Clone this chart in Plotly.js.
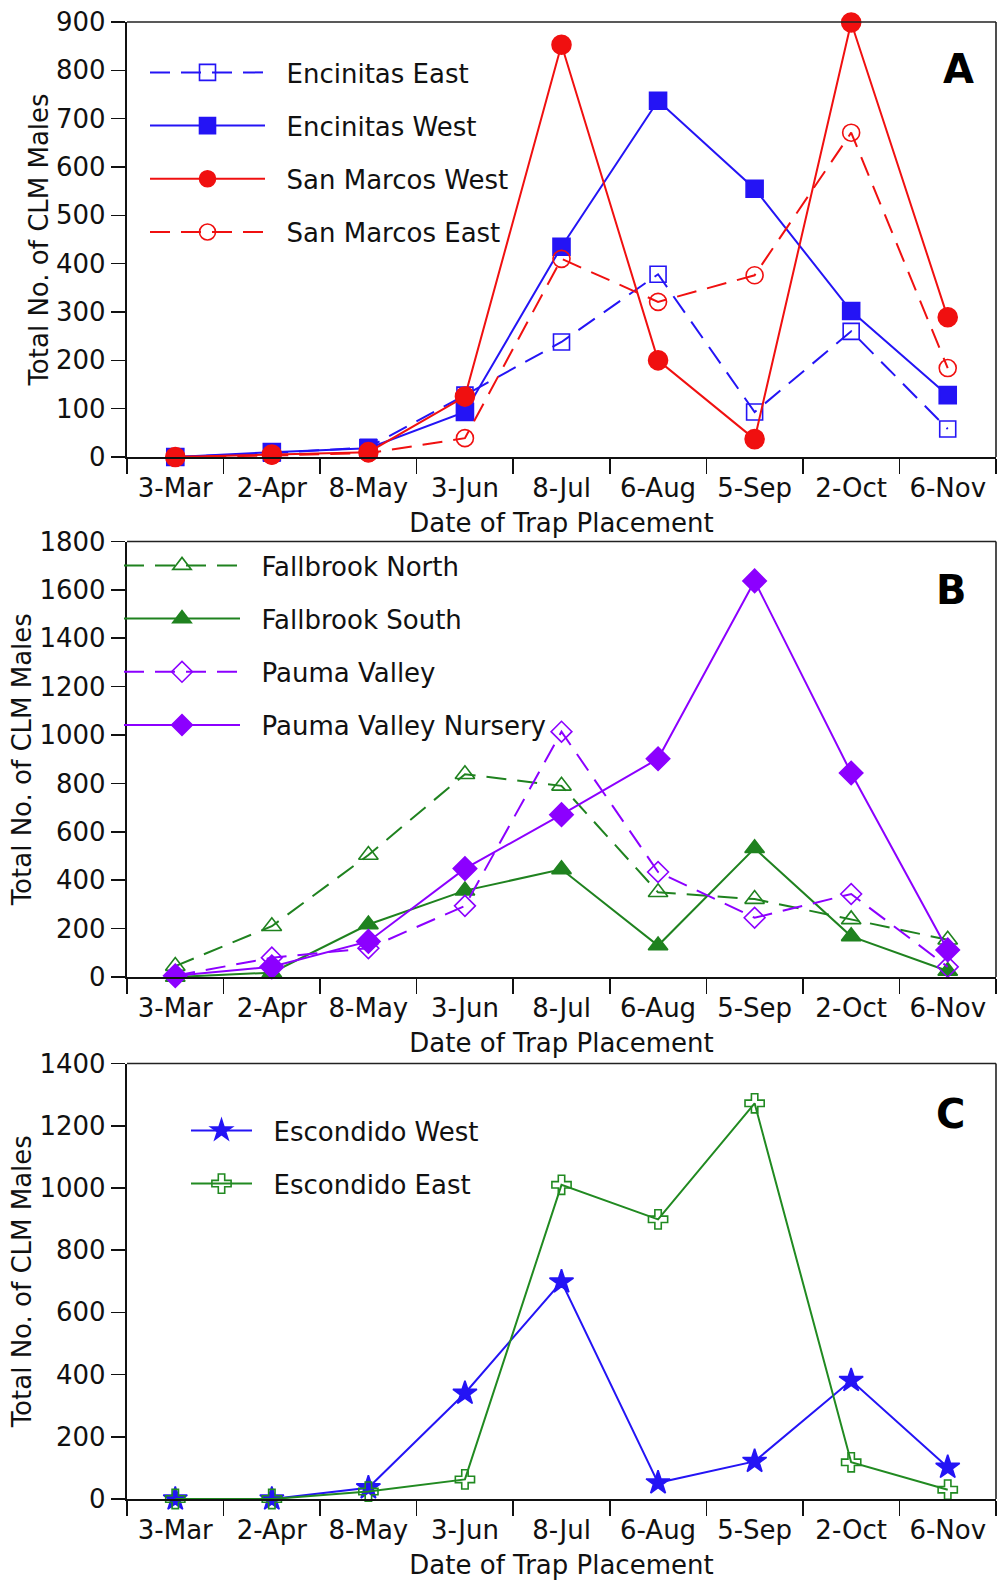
<!DOCTYPE html>
<html>
<head>
<meta charset="utf-8">
<script src="https://cdn.plot.ly/plotly-3.0.1.min.js"></script>
<style>
  html, body { margin: 0; padding: 0; background: #fff; }
  #chart { width: 998px; height: 1580px; }
</style>
</head>
<body>
<div id="chart"></div>
<script>
// Trap placement dates (shared by all three panels)
const categories = ['3-Mar', '2-Apr', '8-May', '3-Jun', '8-Jul', '6-Aug', '5-Sep', '2-Oct', '6-Nov'];

// Panel A
const encinitasEast = [0, 8, 20, 128, 238, 378, 93, 260, 58];
const encinitasWest = [0, 10, 18, 93, 435, 737, 555, 302, 128];
const sanMarcosWest = [0, 5, 10, 125, 853, 200, 37, 899, 289];
const sanMarcosEast = [0, 3, 8, 39, 410, 321, 376, 671, 184];

// Panel B
const fallbrookNorth = [45, 210, 504, 838, 790, 350, 322, 238, 154];
const fallbrookSouth = [0, 18, 217, 357, 445, 130, 532, 168, 25];
const paumaValley = [5, 80, 119, 294, 1014, 434, 245, 343, 42];
const paumaValleyNursery = [5, 42, 147, 448, 671, 902, 1637, 843, 112];

// Panel C
const escondidoWest = [0, 0, 36, 340, 698, 52, 121, 381, 102];
const escondidoEast = [0, 0, 24, 63, 1010, 899, 1272, 118, 30];

const W = 998, H = 1580;
const ML = 127, MR = 2, MT = 22, MB = 81;
const plotH = H - MT - MB, plotW = W - ML - MR;
const py = px => (H - MB - px) / plotH;   // pixel row -> paper y
const pxX = px => (px - ML) / plotW;      // pixel column -> paper x

const FONT = 'DejaVu Sans, Liberation Sans, Arial, sans-serif';
const FS = 26;
const BLUE = '#2414f5', RED = '#f01010', GREEN = '#1f821f', PURPLE = '#8c00ff', GREEN_C = '#218a21';
const DASH = '20px,11px';
const GAP = '\u00a0\u00a0';  // extra room between legend sample and its label

function series(y, name, color, symbol, dashed, xa, ya, legend, size) {
  return {
    type: 'scatter', mode: 'lines+markers', x: categories, y: y, name: GAP + name,
    xaxis: xa, yaxis: ya, legend: legend, legendgroup: name, cliponaxis: false,
    line: { color: color, width: 2, dash: dashed ? DASH : 'solid' },
    marker: { symbol: symbol, size: size || 17, color: color, line: { color: color, width: 1.6 } }
  };
}

const data = [
  series(encinitasEast, 'Encinitas East', BLUE, 'square-open', true, 'x', 'y', 'legend', 16),
  series(encinitasWest, 'Encinitas West', BLUE, 'square', false, 'x', 'y', 'legend', 17),
  series(sanMarcosWest, 'San Marcos West', RED, 'circle', false, 'x', 'y', 'legend', 19),
  series(sanMarcosEast, 'San Marcos East', RED, 'circle-open', true, 'x', 'y', 'legend', 17),

  series(fallbrookNorth, 'Fallbrook North', GREEN, 'triangle-up-open', true, 'x2', 'y2', 'legend2', 17),
  series(fallbrookSouth, 'Fallbrook South', GREEN, 'triangle-up', false, 'x2', 'y2', 'legend2', 17),
  series(paumaValley, 'Pauma Valley', PURPLE, 'diamond-open', true, 'x2', 'y2', 'legend2', 16),
  series(paumaValleyNursery, 'Pauma Valley Nursery', PURPLE, 'diamond', false, 'x2', 'y2', 'legend2', 18),

  series(escondidoWest, 'Escondido West', BLUE, 'star', false, 'x3', 'y3', 'legend3', 18),
  series(escondidoEast, 'Escondido East', GREEN_C, 'cross-open', false, 'x3', 'y3', 'legend3', 16)
];

const tickFont = { family: FONT, size: FS, color: '#111' };

function xAxis(anchor) {
  return {
    anchor: anchor, domain: [0, 1], type: 'category', categoryarray: categories,
    range: [-0.5, categories.length - 0.5], tickson: 'boundaries',
    ticks: 'outside', ticklen: 15, tickwidth: 1.6, tickcolor: '#111',
    showline: true, linewidth: 2.2, linecolor: '#111', showgrid: false, zeroline: false,
    tickfont: tickFont, ticklabelstandoff: 7, fixedrange: true,
    title: { text: 'Date of Trap Placement', font: tickFont, standoff: 11 }
  };
}
function yAxis(anchor, top, bottom, max, dtick) {
  return {
    anchor: anchor, domain: [py(bottom), py(top)], range: [0, max], dtick: dtick,
    ticks: 'outside', ticklen: 14, tickwidth: 1.6, tickcolor: '#111',
    showline: true, linewidth: 2.2, linecolor: '#111', showgrid: false, zeroline: false,
    tickfont: tickFont, fixedrange: true,
    title: { text: 'Total No. of CLM Males', font: tickFont, standoff: 0 }
  };
}

// frame lines on the top and right of each panel
function frame(xr, yr) {
  const s = { type: 'line', xref: xr + ' domain', yref: yr + ' domain', line: { color: '#222', width: 1.6 } };
  return [
    Object.assign({}, s, { x0: 0, x1: 1, y0: 1, y1: 1 }),
    Object.assign({}, s, { x0: 1, x1: 1, y0: 0, y1: 1 })
  ];
}

function legendBox(xPx, yPx, itemwidth) {
  return {
    x: pxX(xPx), y: py(yPx), xref: 'paper', yref: 'paper', xanchor: 'left', yanchor: 'top',
    font: { family: FONT, size: FS, color: '#111' }, bgcolor: 'rgba(0,0,0,0)', borderwidth: 0,
    itemwidth: itemwidth, tracegroupgap: 16.4, traceorder: 'grouped'
  };
}

const panelFont = { family: FONT, size: 40, color: '#000', weight: 'bold' };
function panelLabel(text, xPx, yPx) {
  return { text: text, x: pxX(xPx), y: py(yPx), xref: 'paper', yref: 'paper',
           xanchor: 'center', yanchor: 'middle', showarrow: false, font: panelFont };
}

const layout = {
  width: W, height: H, autosize: false,
  margin: { l: ML, r: MR, t: MT, b: MB },
  paper_bgcolor: '#fff', plot_bgcolor: '#fff',
  font: { family: FONT, color: '#111' },
  showlegend: true,
  xaxis: xAxis('y'), yaxis: yAxis('x', 22, 457, 900, 100),
  xaxis2: xAxis('y2'), yaxis2: yAxis('x2', 541.5, 977, 1800, 200),
  xaxis3: xAxis('y3'), yaxis3: yAxis('x3', 1063.5, 1499, 1400, 200),
  legend: legendBox(145, 49, 115),
  legend2: legendBox(119, 542, 116),
  legend3: legendBox(186, 1107, 61),
  shapes: [].concat(frame('x', 'y'), frame('x2', 'y2'), frame('x3', 'y3')),
  annotations: [
    panelLabel('A', 958, 69),
    panelLabel('B', 951, 590),
    panelLabel('C', 950, 1114)
  ]
};

Plotly.newPlot('chart', data, layout, { staticPlot: true, displayModeBar: false });
</script>
</body>
</html>
